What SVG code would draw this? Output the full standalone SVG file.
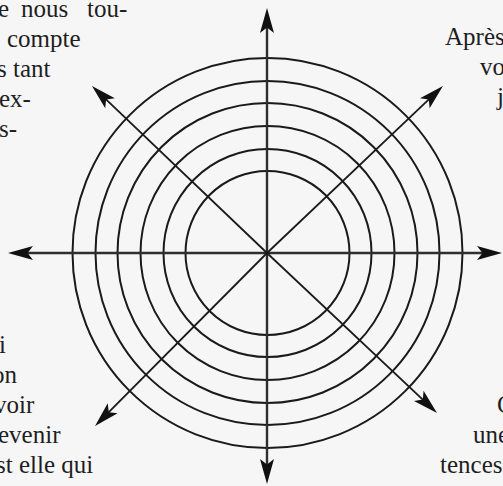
<svg xmlns="http://www.w3.org/2000/svg" width="503" height="486" viewBox="0 0 503 486">
  <defs>
    <style>
      .ring { fill: none; stroke: #1a1a1a; stroke-width: 2; }
      .axis { stroke: #2e2e2e; stroke-width: 2.4; fill: none; }
      .diag { stroke: #1a1a1a; stroke-width: 1.8; fill: none; }
      .txt { font-family: "Liberation Serif", "Times New Roman", serif; font-size: 25px; fill: #1e1e1e; }
    </style>
    <marker id="head" markerUnits="userSpaceOnUse" markerWidth="30" markerHeight="20" refX="0" refY="0" orient="auto" overflow="visible">
      <path d="M10,0 L-15,-7 L-9.5,0 L-15,7 Z" fill="#111"/>
    </marker>
  </defs>
  <rect width="503" height="486" fill="#f6f6f6"/>

  <g id="rings">
    <circle class="ring" cx="267.5" cy="253" r="82"/>
    <circle class="ring" cx="267.5" cy="253" r="104"/>
    <circle class="ring" cx="267.5" cy="253" r="127"/>
    <circle class="ring" cx="267.5" cy="253" r="150"/>
    <circle class="ring" cx="267.5" cy="253" r="172"/>
    <circle class="ring" cx="267.5" cy="253" r="195"/>
  </g>

  <g id="connectors">
    <line class="axis" x1="267" y1="253" x2="267" y2="18" marker-end="url(#head)"/>
    <line class="axis" x1="267" y1="253" x2="267" y2="474" marker-end="url(#head)"/>
    <line class="axis" x1="267" y1="253" x2="18" y2="253" marker-end="url(#head)"/>
    <line class="axis" x1="267" y1="253" x2="492" y2="253" marker-end="url(#head)"/>
    <line class="diag" x1="267" y1="253" x2="99.2" y2="92.9" marker-end="url(#head)"/>
    <line class="diag" x1="267" y1="253" x2="435.7" y2="92.9" marker-end="url(#head)"/>
    <line class="diag" x1="267" y1="253" x2="102.1" y2="418.9" marker-end="url(#head)"/>
    <line class="diag" x1="267" y1="253" x2="429.7" y2="406.1" marker-end="url(#head)"/>
  </g>

  <g id="text-top-left" class="txt">
    <text x="-2" y="17">e</text>
    <text x="21" y="17">nous</text>
    <text x="87" y="17">tou-</text>
    <text x="7" y="47">compte</text>
    <text x="-3" y="77">s tant</text>
    <text x="-1" y="107">ex-</text>
    <text x="-1" y="137">s-</text>
  </g>
  <g id="text-top-right" class="txt">
    <text x="445" y="45">Après</text>
    <text x="480" y="75">vo</text>
    <text x="497" y="105">j</text>
  </g>
  <g id="text-bottom-left" class="txt">
    <text x="-1" y="353">i</text>
    <text x="-8" y="383">on</text>
    <text x="-6" y="413">voir</text>
    <text x="-2" y="443">evenir</text>
    <text x="-4" y="473">st elle qui</text>
  </g>
  <g id="text-bottom-right" class="txt">
    <text x="497" y="413">C</text>
    <text x="473" y="443">une</text>
    <text x="440" y="473">tences</text>
  </g>
</svg>
